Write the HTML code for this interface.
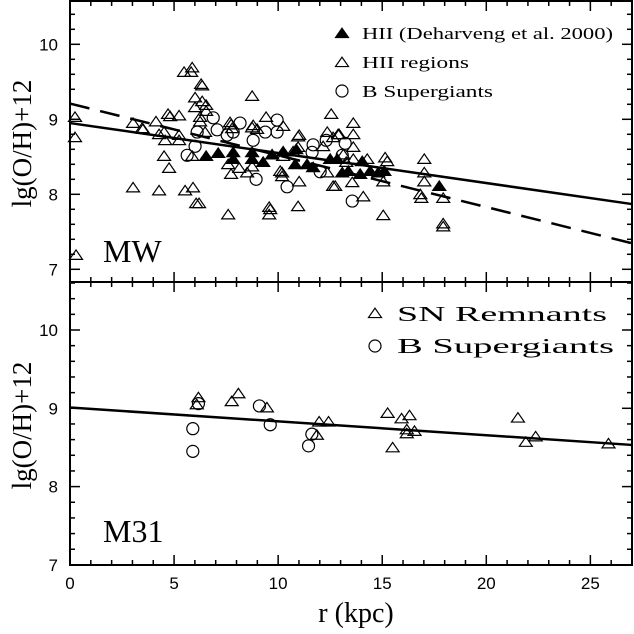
<!DOCTYPE html>
<html><head><meta charset="utf-8"><style>
html,body{margin:0;padding:0;background:#fff;}
svg{display:block;}
text{fill:#000;}
</style></head><body>
<svg id="chart" width="634" height="634" viewBox="0 0 634 634" xmlns="http://www.w3.org/2000/svg"></svg>
<script>
// ---- data ----
const mwHiiR = [0.24,0.24,0.29,3.03,3.46,3.03,4.28,4.13,4.28,4.52,4.57,4.52,4.76,4.71,4.81,5.24,5.24,3.51,5.24,5.53,5.91,6.06,6.20,5.48,5.82,5.87,6.35,6.01,6.35,6.01,6.54,6.54,6.25,6.25,5.87,6.49,7.60,7.60,7.74,8.13,8.75,8.75,8.80,8.99,7.74,7.79,8.51,8.75,9.42,9.57,9.57,10.10,10.19,10.24,10.96,10.96,11.01,10.96,12.16,12.36,12.55,12.64,12.88,12.74,13.13,13.27,13.56,13.61,13.61,13.61,13.61,14.09,14.28,15.05,15.05,15.14,15.24,12.36,10.24,10.72,10.19,17.02,17.02,17.02,16.83,16.88,17.93,17.93,17.93,11.01,12.93,12.64,7.69,9.62,6.30];
const mwHiiV = [9.02,8.75,7.18,8.94,8.87,8.08,8.04,8.96,8.79,8.82,8.71,8.50,8.34,9.06,9.03,9.04,8.71,8.86,8.78,8.04,8.08,7.87,7.87,9.62,9.62,9.68,9.44,9.28,9.23,9.15,9.18,9.10,9.02,8.96,8.50,8.82,7.72,8.39,8.26,8.34,9.30,8.88,8.91,8.86,8.92,8.87,8.28,8.36,9.02,7.82,7.72,8.30,8.23,8.90,8.76,8.62,8.16,7.83,8.63,8.82,9.06,8.75,8.79,8.10,8.52,8.42,8.15,8.94,8.79,8.62,8.46,7.96,8.46,7.71,8.16,8.48,8.43,8.28,8.50,8.56,8.28,8.46,8.28,8.16,7.99,7.94,7.94,7.60,7.56,8.78,8.79,8.10,8.95,7.79,9.46];
const mwDehR = [6.54,7.12,7.84,7.84,8.75,8.75,9.28,9.71,10.24,10.87,10.82,11.39,11.68,12.50,12.84,13.08,13.37,13.94,14.04,14.42,14.81,15.10,17.74];
const mwDehV = [8.50,8.54,8.55,8.46,8.55,8.46,8.42,8.52,8.56,8.59,8.39,8.39,8.35,8.46,8.46,8.28,8.30,8.26,8.43,8.30,8.28,8.30,8.10];
const mwBsgR = [5.63,6.01,6.11,6.88,7.07,7.55,7.84,8.17,8.80,8.94,9.38,9.95,9.95,10.43,11.68,11.63,12.31,13.22,13.08,12.02,13.56];
const mwBsgV = [8.52,8.64,8.83,9.02,8.86,8.79,8.83,8.95,8.72,8.20,8.83,8.99,8.83,8.10,8.66,8.56,8.72,8.68,8.52,8.30,7.91];
const m31SnrR = [6.17,6.09,8.09,7.77,9.46,11.97,12.42,11.86,15.26,15.93,16.31,16.18,16.18,16.55,15.5,21.52,21.9,22.37,25.87];
const m31SnrV = [9.13,9.04,9.18,9.08,9.00,8.82,8.82,8.65,8.93,8.86,8.90,8.72,8.67,8.70,8.49,8.87,8.56,8.63,8.54];
const m31BsgR = [6.17,5.9,5.9,9.1,9.62,11.62,11.46];
const m31BsgV = [9.06,8.74,8.45,9.03,8.79,8.67,8.52];
const mwSolidFit = [8.95,-0.040];   // intercept, slope
const mwDashFit = [9.21,-0.069];
const m31Fit = [9.01,-0.0177];
const xTicks = [0,5,10,15,20,25];
const yTicks = [7,8,9,10];

// ---- scales ----
const X0=70, X1=632, RMAX=27;
const sx = r => X0 + r*(X1-X0)/RMAX;
const topY = v => 44.3 + (10-v)*75;
const botY = v => 330 + (10-v)*78.3;
const P1 = {top:1, bot:282, y:topY, vmin:6.83, vmax:10.59};
const P2 = {top:282, bot:565, y:botY, vmin:7, vmax:10.61};

const svg = document.getElementById('chart');
const NS='http://www.w3.org/2000/svg';
function mk(tag, attrs, parent){
  const e=document.createElementNS(NS,tag);
  for(const k in attrs) e.setAttribute(k, attrs[k]);
  (parent||svg).appendChild(e); return e;
}
function tri(x,y,filled,g){
  const s=6.5;
  return mk('polygon',{points:`${x-s},${y+s*0.55} ${x+s},${y+s*0.55} ${x},${y-s*0.9}`,fill:filled?'#000':'none',stroke:'#000','stroke-width':1.2},g);
}
function circ(x,y,g){ return mk('circle',{cx:x,cy:y,r:6,fill:'none',stroke:'#000','stroke-width':1.2},g); }

[P1,P2].forEach((P,pi)=>{
  const g=mk('g',{});
  
  
  mk('rect',{x:X0,y:P.top,width:X1-X0,height:P.bot-P.top,fill:'none',stroke:'#000','stroke-width':2},g);
  for(let r=0;r<=RMAX;r++){
    const L=(r%5===0)?10:5, x=sx(r);
    mk('line',{x1:x,y1:P.bot,x2:x,y2:P.bot-L,stroke:'#000','stroke-width':1.5},g);
    mk('line',{x1:x,y1:P.top,x2:x,y2:P.top+L,stroke:'#000','stroke-width':1.5},g);
  }
  for(let i=Math.ceil(P.vmin*5);i<=Math.floor(P.vmax*5);i++){
    const v=i/5, y=P.y(v), L=(i%5===0)?10:5;
    if(y<P.top+1||y>P.bot-1) continue;
    mk('line',{x1:X0,y1:y,x2:X0+L,y2:y,stroke:'#000','stroke-width':1.5},g);
    mk('line',{x1:X1,y1:y,x2:X1-L,y2:y,stroke:'#000','stroke-width':1.5},g);
  }
  yTicks.forEach(v=>{
    const t=mk('text',{x:58,y:P.y(v)+6,'text-anchor':'end','font-family':'Liberation Sans, sans-serif','font-size':17},g);
    
    
    t.textContent=v;
  });
  const yl=mk('text',{transform:`translate(31,${(P.top+P.bot)/2+2}) rotate(-90)`,'text-anchor':'middle','font-family':'Liberation Serif, serif','font-size':27},g);
  
  
  yl.textContent='lg(O/H)+12';
});
xTicks.forEach(r=>{
  const t=mk('text',{x:sx(r),y:589,'text-anchor':'middle','font-family':'Liberation Sans, sans-serif','font-size':17});
  
  
  t.textContent=r;
});
const xt=mk('text',{x:356,y:622,'text-anchor':'middle','font-family':'Liberation Serif, serif','font-size':28});


xt.textContent='r (kpc)';

function fit(P,f,dash,name){
  const l=mk('line',{x1:sx(0),y1:P.y(f[0]),x2:sx(RMAX),y2:P.y(f[0]+f[1]*RMAX),stroke:'#000','stroke-width':2.5});
  if(dash) l.setAttribute('stroke-dasharray','20,11');
  
  
}
fit(P1,mwDashFit,true,'mw-dashed-gradient-line');
fit(P1,mwSolidFit,false,'mw-solid-gradient-line');
fit(P2,m31Fit,false,'m31-gradient-line');

const gH=mk('g',{});  
mwHiiR.forEach((r,i)=>{ const p=tri(sx(r),topY(mwHiiV[i]),false,gH);
  
   });
const gB=mk('g',{});  
mwBsgR.forEach((r,i)=>{ const p=circ(sx(r),topY(mwBsgV[i]),gB);
  
   });
const gD=mk('g',{});  
mwDehR.forEach((r,i)=>{ const p=tri(sx(r),topY(mwDehV[i]),true,gD);
  
   });
const gS=mk('g',{});  
m31SnrR.forEach((r,i)=>{ const p=tri(sx(r),botY(m31SnrV[i]),false,gS);
  
   });
const gM=mk('g',{});  
m31BsgR.forEach((r,i)=>{ const p=circ(sx(r),botY(m31BsgV[i]),gM);
  
   });

function legText(x,y,s,w,name,fs){
  const t=mk('text',{x:x,y:y,'font-family':'Liberation Serif, serif','font-size':fs||17,textLength:w,lengthAdjust:'spacingAndGlyphs'});
  
  
  t.textContent=s;
}
let e;
e=tri(342,34,true);  
legText(362,39,'HII (Deharveng et al. 2000)',251,'legend-deharveng-label');
e=tri(342,63,false);  
legText(362,68,'HII regions',107,'legend-hii-label');
e=circ(342,91);  
legText(362,97,'B Supergiants',131,'legend-bsg-label');
e=tri(375,314,false);  
legText(397,321,'SN Remnants',210,'legend-snr-label',21);
e=circ(375,346);  
legText(397,353,'B Supergiants',217,'legend-m31-bsg-label',21);

e=mk('text',{x:103,y:262,'font-family':'Liberation Serif, serif','font-size':32});
  e.textContent='MW';
e=mk('text',{x:103,y:542,'font-family':'Liberation Serif, serif','font-size':32});
  e.textContent='M31';
</script>
</body></html>
